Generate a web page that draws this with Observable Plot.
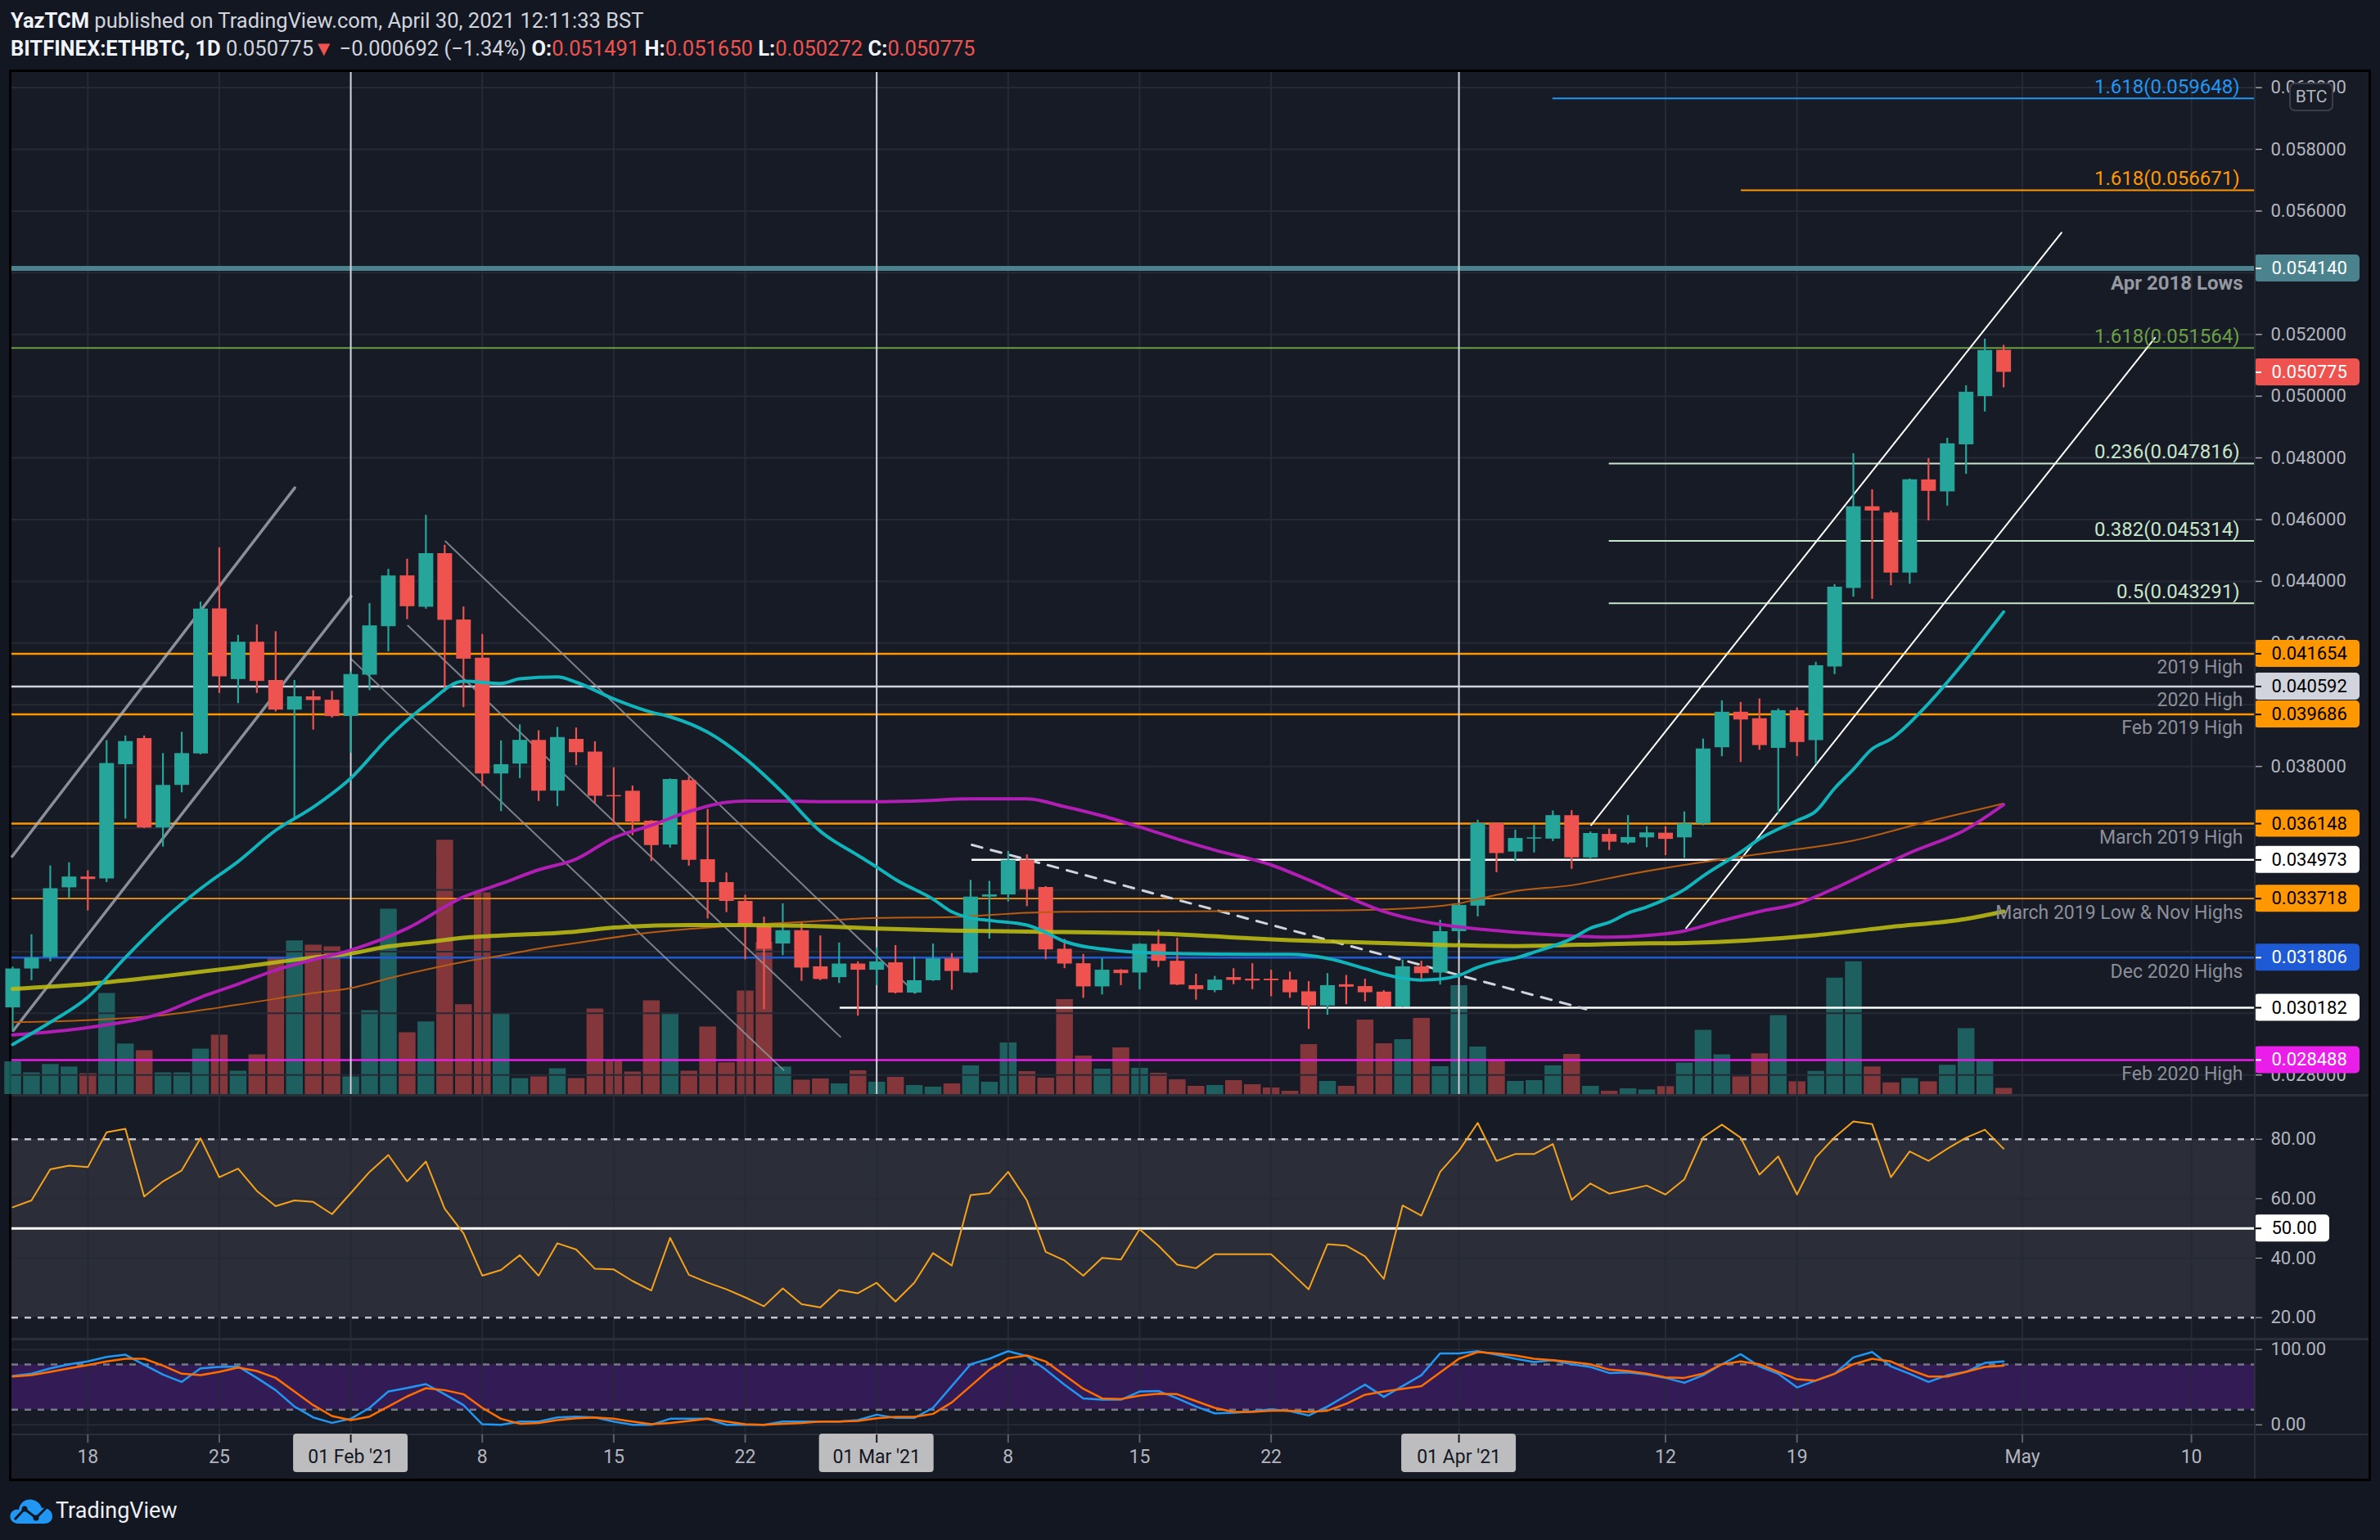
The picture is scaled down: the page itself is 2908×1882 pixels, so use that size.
<!DOCTYPE html>
<html>
<head>
<meta charset="utf-8">
<script src="https://cdn.jsdelivr.net/npm/d3@7"></script>
<script src="https://cdn.jsdelivr.net/npm/@observablehq/plot@0.6"></script>
<style>
html,body{margin:0;padding:0;}
body{width:2908px;height:1882px;background:#131722;position:relative;overflow:hidden;font-family:Roboto,"Noto Sans",sans-serif;}
.abs{position:absolute;}
#h1{left:13px;top:8px;font-size:25.5px;color:#d1d4dc;white-space:nowrap;line-height:34px;}
#h2{left:13px;top:42px;font-size:25.5px;color:#d1d4dc;white-space:nowrap;line-height:34px;}
#h1 b,#h2 b{color:#f0f3fa;font-weight:700;}
.r{color:#ef5350;}
#frame{left:11px;top:85px;width:2886px;height:1725px;box-sizing:border-box;border:3px solid #000;background:#171b26;}
.sep{left:14px;width:2880px;background:#2a2e39;}
#axisline{left:2754px;top:88px;width:2px;height:1719px;background:#2a2e39;}
#btc{left:2797px;top:101px;width:54px;height:35px;box-sizing:border-box;border:2px solid #3a3e4a;border-radius:7px;background:#171b26;color:#b2b5be;font-size:21px;line-height:31px;text-align:center;}
#foot{left:68px;top:1829px;font-size:27px;color:#eef0f4;line-height:34px;}
.pane{left:14px;}
</style>
</head>
<body>
<div id="h1" class="abs"><b>YazTCM</b> published on TradingView.com, April 30, 2021 12:11:33 BST</div>
<div id="h2" class="abs"><b>BITFINEX:ETHBTC, 1D</b> 0.050775<span class="r">▼</span> −0.000692 (−1.34%) <b>O:</b><span class="r">0.051491</span> <b>H:</b><span class="r">0.051650</span> <b>L:</b><span class="r">0.050272</span> <b>C:</b><span class="r">0.050775</span></div>
<div id="frame" class="abs"></div>
<div id="vol" class="abs pane" style="top:88px"></div>
<div id="price" class="abs pane" style="top:88px"></div>
<div class="abs sep" style="top:1337px;height:3px"></div>
<div id="rsi" class="abs pane" style="top:1339px"></div>
<div class="abs sep" style="top:1635px;height:3px"></div>
<div id="stoch" class="abs pane" style="top:1638px"></div>
<div class="abs sep" style="top:1752px;height:2px"></div>
<div id="dates" class="abs pane" style="top:1753px"></div>
<div id="axisline" class="abs"></div>
<div id="btc" class="abs">BTC</div>
<svg class="abs" style="left:11px;top:1828px" width="56" height="36" viewBox="0 0 56 36">
<path d="M12 34 C3 34 0 27 2 22 C4 17 9 16 12 17 C13 8 21 3 29 5 C35 6 39 11 40 15 C47 14 53 19 53 25 C53 31 48 34 43 34 Z" fill="#2196f3"/>
<polyline points="7,29 19,16 33,27 46,14" fill="none" stroke="#131722" stroke-width="3"/>
<circle cx="19" cy="16" r="3.5" fill="#131722"/><circle cx="33" cy="27" r="3.5" fill="#131722"/>
</svg>
<div id="foot" class="abs">TradingView</div>
<script>
// ---------------- DATA ----------------
// daily candles BITFINEX:ETHBTC, 14 Jan 2021 .. 30 Apr 2021
const firstDay = "2021-01-14", lastDayExclusive = "2021-05-01";
const open = [0.03018,0.03144,0.03181,0.03407,0.03442,0.03436,0.03806,0.03891,0.03601,0.03739,
0.03841,0.04311,0.04082,0.04203,0.04079,0.03983,0.04026,0.04015,0.03962,0.04096,
0.04253,0.04418,0.04316,0.04490,0.04275,0.04151,0.03776,0.03808,0.03885,0.03720,
0.03888,0.03847,0.03706,0.03720,0.03623,0.03546,0.03755,0.03498,0.03424,0.03363,
0.03282,0.03225,0.03268,0.03151,0.03116,0.03160,0.03140,0.03164,0.03066,0.03106,
0.03177,0.03131,0.03377,0.03384,0.03496,0.03408,0.03208,0.03161,0.03086,0.03140,
0.03131,0.03224,0.03169,0.03090,0.03074,0.03116,0.03111,0.03111,0.03108,0.03070,
0.03024,0.03093,0.03087,0.03069,0.03021,0.03151,0.03131,0.03265,0.03348,0.03615,
0.03523,0.03565,0.03565,0.03641,0.03504,0.03580,0.03552,0.03569,0.03584,0.03569,
0.03614,0.03861,0.03976,0.03955,0.03859,0.03981,0.03884,0.04123,0.04377,0.04642,
0.04622,0.04427,0.04729,0.04690,0.04843,0.04999,0.051491];
const high = [0.03150,0.03255,0.03478,0.03488,0.03462,0.03884,0.03899,0.03899,0.03842,0.03911,
0.04333,0.04509,0.04225,0.04259,0.04237,0.04079,0.04046,0.04044,0.04107,0.04328,
0.04439,0.04472,0.04614,0.04517,0.04317,0.04228,0.03883,0.03935,0.03916,0.03927,
0.03925,0.03880,0.03796,0.03737,0.03625,0.03760,0.03766,0.03661,0.03455,0.03383,
0.03312,0.03355,0.03296,0.03251,0.03228,0.03167,0.03212,0.03220,0.03183,0.03225,
0.03194,0.03431,0.03428,0.03525,0.03514,0.03411,0.03240,0.03191,0.03178,0.03142,
0.03226,0.03270,0.03244,0.03127,0.03120,0.03145,0.03161,0.03140,0.03134,0.03103,
0.03129,0.03123,0.03111,0.03074,0.03173,0.03169,0.03302,0.03352,0.03626,0.03617,
0.03594,0.03611,0.03656,0.03657,0.03588,0.03597,0.03641,0.03605,0.03605,0.03653,
0.03889,0.04013,0.04008,0.04019,0.03987,0.03990,0.04138,0.04390,0.04814,0.04697,
0.04628,0.04732,0.04798,0.04864,0.05034,0.05185,0.051650];
const low = [0.02944,0.03106,0.03167,0.03373,0.03332,0.03424,0.03630,0.03599,0.03539,0.03715,
0.03838,0.04037,0.04004,0.04037,0.03977,0.03631,0.03918,0.03957,0.03843,0.04046,
0.04172,0.04276,0.04310,0.04040,0.03991,0.03735,0.03654,0.03761,0.03687,0.03670,
0.03803,0.03680,0.03610,0.03576,0.03492,0.03536,0.03477,0.03306,0.03327,0.03174,
0.03012,0.03187,0.03104,0.03106,0.03097,0.02991,0.03090,0.03063,0.03063,0.03104,
0.03075,0.03129,0.03241,0.03361,0.03346,0.03174,0.03145,0.03049,0.03060,0.03090,
0.03076,0.03149,0.03090,0.03043,0.03067,0.03093,0.03077,0.03054,0.03049,0.02948,
0.02994,0.03028,0.03037,0.03019,0.03019,0.03102,0.03092,0.03237,0.03313,0.03456,
0.03491,0.03520,0.03557,0.03467,0.03498,0.03528,0.03547,0.03537,0.03511,0.03502,
0.03608,0.03832,0.03813,0.03853,0.03646,0.03832,0.03807,0.04098,0.04349,0.04342,
0.04386,0.04391,0.04596,0.04644,0.04747,0.04949,0.050272];
const close = [0.03144,0.03179,0.03404,0.03442,0.03434,0.03810,0.03881,0.03601,0.03739,0.03842,
0.04310,0.04091,0.04203,0.04076,0.03983,0.04026,0.04014,0.03962,0.04098,0.04256,
0.04418,0.04318,0.04490,0.04274,0.04148,0.03776,0.03806,0.03885,0.03720,0.03894,
0.03845,0.03704,0.03702,0.03620,0.03544,0.03758,0.03496,0.03424,0.03363,0.03282,
0.03208,0.03268,0.03147,0.03110,0.03160,0.03140,0.03167,0.03066,0.03106,0.03177,
0.03136,0.03377,0.03384,0.03496,0.03401,0.03206,0.03160,0.03086,0.03140,0.03129,
0.03224,0.03169,0.03092,0.03077,0.03108,0.03107,0.03105,0.03106,0.03067,0.03024,
0.03090,0.03085,0.03067,0.03021,0.03151,0.03129,0.03265,0.03350,0.03615,0.03518,
0.03567,0.03569,0.03641,0.03504,0.03583,0.03555,0.03570,0.03585,0.03564,0.03614,
0.03857,0.03976,0.03951,0.03868,0.03981,0.03878,0.04127,0.04381,0.04642,0.04628,
0.04427,0.04729,0.04692,0.04846,0.05013,0.05148,0.050775];
// relative volume (read as bar heights)
const volume = [40,26.5,36.7,33.6,25.5,123.5,61.7,53.5,26.5,26.5,
55.5,72.5,28.5,48.5,166.8,187.7,182.6,180.6,21.5,102.5,
226.5,75.5,88.7,310.7,109.7,246.5,98.5,19.5,21.5,31.5,
19.5,104.5,41.8,27.5,114.5,99.5,28.5,82.5,38.7,126.5,
185.7,33.6,17.5,19,13,29,15,21,11,9,
13,35,15,63,28,20,116,47,31,57,
32,26,18,10,11,17,12,8,4,61,
16,10,91,62,67,93,34,133,58,42,
16,17,35,49,10,4,7,5.6,9.6,38.4,
78.5,48.5,21.6,49.7,96.6,15.6,28.3,142.2,162.2,33.7,
14.3,19.6,15.6,35.7,80.6,42.4,7.5];
const rsi = [57.1,59.4,69.9,71.1,70.6,82.3,83.5,60.7,65.8,69.5,
80.3,67.2,70.1,62.6,57.5,59.4,58.9,54.8,61.9,69.0,
74.7,65.8,72.5,56.6,48.4,34.1,36.0,41.0,34.1,45.0,
42.9,36.4,36.2,32.3,29.1,46.8,34.4,31.8,29.5,26.8,
23.8,29.8,24.5,23.4,29.3,28.2,31.7,25.4,31.7,41.7,
37.5,61.2,61.9,69.0,59.4,42.1,39.2,34.1,40.1,39.5,
49.7,44.2,37.8,36.6,41.3,41.3,41.3,41.3,35.5,29.5,
44.7,44.2,40.6,33.0,57.7,54.3,69.0,76.1,85.5,72.7,
75.0,75.0,78.4,59.6,65.1,61.7,63.0,64.4,61.4,66.5,
80.6,84.9,80.5,68.1,74.2,61.4,73.9,80.6,86.0,85.1,
67.2,75.9,72.7,76.8,80.5,83.2,76.8];
const stochK = [64.9,67.8,75.0,80.4,84.1,90.2,93.1,79.7,66.7,56.9,
75.0,76.8,77.5,62.3,46.0,24.3,9.8,2.5,8.0,22.5,
44.2,48.9,54.0,40.6,26.1,0.7,0,4.3,4.3,9.8,
10.9,9.8,4.3,0,0,8.0,8.0,8.0,0,0,
0,4.3,4.3,4.3,4.3,6.2,13.4,9.1,9.1,22.5,
51.4,80.4,87.7,97.8,91.3,73.2,53.3,35.1,33.3,33.3,
44.2,44.9,35.1,24.3,15.2,15.9,17.8,20.7,18.1,12.3,
24.3,38.8,53.3,37.0,51.4,65.9,94.9,94.9,97.8,93.1,
87.7,83.3,85.9,80.4,76.8,68.8,69.6,66.7,62.3,55.8,
65.9,80.4,93.8,77.5,67.8,49.6,58.7,67.8,89.5,96.7,
77.5,67.8,56.9,65.9,70.3,82.2,84.1];
const stochD = [64.1,65.9,70.3,75.0,79.3,84.1,87.7,87.7,78.6,67.8,
65.9,70.3,76.1,71.4,62.3,44.2,26.1,11.6,6.2,10.9,
24.3,37.7,48.6,46.0,40.6,22.5,8.0,1.4,2.5,6.2,
8.7,9.8,8.0,4.3,0.7,2.5,5.1,8.0,4.3,0.7,
0,1.4,2.5,4.3,4.3,5.1,8.7,10.5,10.5,14.5,
29.7,51.4,73.2,88.4,92.0,84.1,65.9,47.8,35.1,34.1,
38.8,41.3,40.6,31.5,22.5,17.0,17.0,18.8,18.8,17.0,
18.8,27.9,39.9,44.2,47.8,51.4,69.6,87.7,96.7,94.9,
92.0,87.7,85.9,83.3,80.4,73.2,71.4,67.8,63.0,62.3,
67.8,80.4,84.1,80.4,70.3,60.5,58.7,67.8,80.4,87.7,
84.1,73.2,64.1,64.1,70.3,76.8,78.6];
// moving averages: [days after 14 Jan, value]
const maCyan = [[0,0.02899],[2,0.02971],[4,0.03052],[6,0.03181],[8,0.03302],[10,0.03404],[12,0.03492],[14,0.03593],[16,0.03668],[18,0.03762],[20,0.03893],[22,0.03999],[24,0.04076],[26,0.04069],[27,0.04084],[29,0.04090],[30,0.04073],[32,0.04019],[34,0.03976],[35,0.03961],[37,0.03911],[39,0.03826],[41,0.03715],[43,0.03590],[45,0.03512],[46,0.03474],[47,0.03434],[49,0.03370],[50,0.03329],[51,0.03309],[52,0.03301],[54,0.03286],[55,0.03262],[56,0.03233],[59,0.03202],[61,0.03195],[64,0.03192],[68,0.03191],[70,0.03178],[72,0.03145],[73,0.03127],[74,0.03114],[75,0.03108],[76,0.03111],[77,0.03123],[78,0.03149],[79,0.03167],[80,0.03179],[81,0.03198],[83,0.03242],[84,0.03276],[85,0.03295],[86,0.03325],[87,0.03345],[89,0.03401],[90,0.03445],[92,0.03522],[93,0.03565],[95,0.03625],[96,0.03655],[97,0.03729],[98,0.03791],[99,0.03857],[100,0.03889],[102,0.04004],[104,0.04146],[106,0.04301]];
const maMagenta = [[0,0.02930],[4,0.02954],[8,0.03002],[10,0.03052],[12,0.03095],[14,0.03140],[16,0.03174],[18,0.03205],[21,0.03275],[24,0.03377],[26,0.03420],[28,0.03465],[30,0.03500],[32,0.03569],[34,0.03609],[36,0.03654],[38,0.03684],[39,0.03688],[41,0.03688],[43,0.03686],[46,0.03686],[48,0.03688],[51,0.03695],[54,0.03695],[56,0.03670],[58,0.03640],[60,0.03604],[62,0.03565],[64,0.03529],[67,0.03481],[69,0.03432],[71,0.03379],[73,0.03330],[75,0.03299],[77,0.03280],[79,0.03268],[81,0.03258],[83,0.03251],[85,0.03247],[87,0.03252],[89,0.03267],[91,0.03300],[93,0.03330],[95,0.03355],[97,0.03405],[99,0.03463],[101,0.03520],[104,0.03596],[106,0.03676]];
const maYellow = [[0,0.03079],[4,0.03095],[8,0.03120],[12,0.03149],[16,0.03181],[18,0.03194],[20,0.03217],[22,0.03230],[24,0.03245],[26,0.03252],[30,0.03265],[32,0.03278],[36,0.03286],[39,0.03286],[43,0.03282],[46,0.03275],[50,0.03268],[54,0.03265],[61,0.03258],[68,0.03237],[73,0.03228],[76,0.03222],[80,0.03218],[86,0.03226],[89,0.03228],[96,0.03253],[100,0.03280],[104,0.03306],[106,0.03330]];
const maBrown = [[0,0.02971],[4,0.02978],[8,0.02994],[12,0.03028],[16,0.03066],[18,0.03082],[20,0.03113],[24,0.03167],[26,0.03187],[28,0.03210],[30,0.03228],[34,0.03262],[38,0.03282],[42,0.03296],[46,0.03309],[50,0.03312],[54,0.03326],[56,0.03329],[61,0.03330],[71,0.03334],[75,0.03343],[77,0.03356],[78,0.03370],[80,0.03396],[83,0.03415],[86,0.03450],[89,0.03481],[93,0.03516],[98,0.03560],[102,0.03622],[106,0.03680]];
// horizontal levels
const levelPrices = [0.054140,0.041654,0.040592,0.039686,0.036148,0.034973,0.033718,0.031806,0.030182,0.028488];
const levelNames = ["Apr 2018 Lows","2019 High","2020 High","Feb 2019 High","March 2019 High","","March 2019 Low & Nov Highs","Dec 2020 Highs","","Feb 2020 High"];
const levelStartDay = [null,null,null,null,null,51.07,null,null,44.05,null];
// fibonacci extension / retracement levels
const fibRatios = ["1.618","1.618","1.618","0.236","0.382","0.5"];
const fibPrices = [0.059648,0.056671,0.051564,0.047816,0.045314,0.043291];
const fibStartDay = [82.0,92.03,null,85.0,85.0,85.0];
// trend lines: [day, price] end points
const trendJanUpper = [[-0.03,0.035083],[15.02,0.047030]];
const trendJanLower = [[0.03,0.029440],[18.02,0.043511]];
const trendFebA = [[23.04,0.045298],[48.06,0.030660]];
const trendFebB = [[21.04,0.042564],[44.07,0.029238]];
const trendFebC = [[18.02,0.041482],[41.05,0.028157]];
const trendDashed = [[51.07,0.035459],[83.77,0.030137]];
const trendAprUpper = [[84.04,0.036100],[109.08,0.055300]];
const trendAprLower = [[89.09,0.032760],[114.06,0.051890]];
const lastPrice = 0.050775;
const gridPrices = [0.028,0.030,0.032,0.034,0.036,0.038,0.040,0.042,0.044,0.046,0.048,0.050,0.052,0.054,0.056,0.058,0.060];
const priceTickLabels = [0.028,0.038,0.042,0.044,0.046,0.048,0.050,0.052,0.056,0.058,0.060];
const monthLines = ["2021-02-01","2021-03-01","2021-04-01"];
const plainTickDates = ["2021-01-18","2021-01-25","2021-02-08","2021-02-15","2021-02-22","2021-03-08","2021-03-15","2021-03-22","2021-04-12","2021-04-19","2021-05-01","2021-05-10"];
const plainTickLabels = ["18","25","8","15","22","8","15","22","12","19","May","10"];
const monthTickDates = ["2021-02-01","2021-03-01","2021-04-01"];
const monthTickLabels = ["01 Feb '21","01 Mar '21","01 Apr '21"];

// ---------------- STYLE / LAYOUT ----------------
const UP="#26a69a", DN="#ef5350", VUP="rgba(38,166,154,0.5)", VDN="rgba(239,83,80,0.5)";
const GRID="#262a35";
const levelColor = ["#4a838e","#ff9800","#d1d4dc","#ff9800","#ff9800","#ffffff","#ff9800","#1f5ad6","#ffffff","#e91ee9"];
const levelWidth = [6,2.5,2.5,2.5,2.5,2.5,1.8,2.5,2.5,2.5];
const fibColor = ["#2196f3","#ff9800","#6a9f45","#c8e6c9","#c8e6c9","#c8e6c9"];
const boxPrices = [0.054140,lastPrice,0.041654,0.040592,0.039686,0.036148,0.034973,0.033718,0.031806,0.030182,0.028488];
const boxFill = ["#4a838e","#ef5350","#ff9800","#d1d4dc","#ff9800","#ff9800","#ffffff","#ff9800","#1f5ad6","#ffffff","#e91ee9"];
const boxText = ["#ffffff","#ffffff","#000000","#000000","#000000","#000000","#000000","#000000","#ffffff","#000000","#ffffff"];

const DAY = 864e5, t0 = Date.parse(firstDay);
const at = d => new Date(t0 + d * DAY);
const parse = s => new Date(s);
const dates = d3.utcDay.range(parse(firstDay), parse(lastDayExclusive));
const rows = dates.map((date, i) => ({date, o: open[i], h: high[i], l: low[i], c: close[i], v: volume[i]}));
const W = 2880, MR = 140, PW = W - MR;
const xDomain = [at(-0.044), at(119.35)];
const X = Plot.scale({x: {type: "utc", domain: xDomain, range: [0, PW]}});
const xEnd = xDomain[1], xStart = xDomain[0];
const xPx = px => X.invert(px);
const xOpt = {type: "utc", domain: xDomain, axis: null};
const base = {width: W, marginLeft: 0, marginRight: MR, marginTop: 0, marginBottom: 0,
  color: {type: "identity"},
  style: {background: "transparent", fontFamily: "Roboto, sans-serif", color: "#b2b5be", overflow: "visible"}};
const gridDates = [...plainTickDates, ...monthTickDates].map(parse);
const trendLine = (pts, o) => Plot.line(pts, {x: d => at(d[0]), y: d => d[1], ...o});

// ---------------- VOLUME (overlay, bottom of price pane) ----------------
const PH = 1249;
const vol = Plot.plot({...base, height: PH, x: xOpt,
  y: {domain: [0, d3.max(volume) * 4.02], axis: null},
  marks: [
    Plot.ruleX(rows, {x: "date", y1: 0, y2: "v", stroke: d => d.c >= d.o ? VUP : VDN, strokeWidth: 20.5})
  ]});
document.getElementById("vol").append(vol);

// ---------------- PRICE PANE ----------------
const pDomain = [0.0273713, 0.0604927];
const Y = Plot.scale({y: {domain: pDomain, range: [PH, 0]}});
const boxH = Y.invert(0) - Y.invert(16.5);
const levelMarks = levelPrices.map((p, i) => Plot.ruleY([p], {
  ...(levelStartDay[i] == null ? {} : {x1: () => at(levelStartDay[i]), x2: () => xEnd}),
  stroke: levelColor[i], strokeWidth: levelWidth[i]}));
const fibMarks = fibPrices.map((p, i) => Plot.ruleY([p], {
  ...(fibStartDay[i] == null ? {} : {x1: () => at(fibStartDay[i]), x2: () => xEnd}),
  stroke: fibColor[i], strokeWidth: 2}));

const price = Plot.plot({...base, height: PH, x: xOpt, y: {domain: pDomain, axis: null},
  marks: [
    Plot.ruleY(gridPrices, {stroke: GRID, strokeWidth: 2}),
    Plot.ruleX(gridDates, {stroke: GRID, strokeWidth: 2}),
    ...levelMarks,
    ...fibMarks,
    trendLine(trendJanUpper, {stroke: "#b2b5be", strokeOpacity: 0.75, strokeWidth: 3.5}),
    trendLine(trendJanLower, {stroke: "#b2b5be", strokeOpacity: 0.75, strokeWidth: 3.5}),
    trendLine(trendFebA, {stroke: "#9598a1", strokeOpacity: 0.8, strokeWidth: 2}),
    trendLine(trendFebB, {stroke: "#9598a1", strokeOpacity: 0.8, strokeWidth: 2}),
    trendLine(trendFebC, {stroke: "#9598a1", strokeOpacity: 0.8, strokeWidth: 2}),
    trendLine(trendDashed, {stroke: "#d1d4dc", strokeWidth: 3, strokeDasharray: "13,11"}),
    trendLine(trendAprUpper, {stroke: "#ffffff", strokeWidth: 2}),
    trendLine(trendAprLower, {stroke: "#ffffff", strokeWidth: 2}),
    Plot.ruleX(monthLines.map(parse), {stroke: "#d1d4dc", strokeWidth: 2}),
    Plot.ruleX(rows, {x: "date", y1: "l", y2: "h", stroke: d => d.c >= d.o ? UP : DN, strokeWidth: 2.2}),
    Plot.ruleX(rows, {x: "date", y1: "o", y2: "c", stroke: d => d.c >= d.o ? UP : DN, strokeWidth: 18}),
    trendLine(maBrown, {stroke: "#b85c12", strokeWidth: 2, curve: "monotone-x"}),
    trendLine(maYellow, {stroke: "#b9b915", strokeOpacity: 0.9, strokeWidth: 5, curve: "monotone-x"}),
    trendLine(maMagenta, {stroke: "#b01eb4", strokeWidth: 4, curve: "monotone-x"}),
    trendLine(maCyan, {stroke: "#10b4ba", strokeWidth: 4, curve: "monotone-x"}),
    // labels of levels
    Plot.text(levelPrices, {filter: (p, i) => i === 0, x: () => xEnd, y: p => p, text: (p, i) => levelNames[i],
      dx: -14, dy: 18, textAnchor: "end", fill: "#9598a1", fontSize: 24, fontWeight: 700}),
    Plot.text(levelPrices, {filter: (p, i) => i > 0 && levelNames[i], x: () => xEnd, y: p => p, text: (p, i) => levelNames[i],
      dx: -14, dy: 17, textAnchor: "end", fill: "#8c8f98", fontSize: 23}),
    Plot.text(fibPrices, {x: () => xEnd, y: p => p, text: (p, i) => `${fibRatios[i]}(${p.toFixed(6)})`,
      dx: -18, dy: -14, textAnchor: "end", fill: (p, i) => fibColor[i], fontSize: 24}),
    // right price axis
    Plot.ruleY(gridPrices, {x1: () => xEnd, x2: () => xPx(PW + 9), stroke: "#4a4e5a", strokeWidth: 2}),
    Plot.axisY({anchor: "right", ticks: priceTickLabels, tickFormat: d => d.toFixed(6), tickSize: 9, tickPadding: 11, fontSize: 22, label: null}),
    Plot.rect(boxPrices, {x1: () => xEnd, x2: () => xPx(PW + 129), y1: p => p - boxH, y2: p => p + boxH, fill: (p, i) => boxFill[i], rx: 5}),
    Plot.ruleY(boxPrices, {x1: () => xEnd, x2: () => xPx(PW + 9), stroke: (p, i) => boxText[i], strokeWidth: 2}),
    Plot.text(boxPrices, {x: () => xEnd, y: p => p, text: p => p.toFixed(6), dx: 21, textAnchor: "start", fill: (p, i) => boxText[i], fontSize: 22})
  ]});
document.getElementById("price").append(price);

// ---------------- RSI PANE ----------------
const rsiPlot = Plot.plot({...base, height: 297, x: xOpt, y: {domain: [12.761, 94.506], axis: null},
  marks: [
    Plot.rect([[20, 80]], {x1: () => xStart, x2: () => xEnd, y1: d => d[0], y2: d => d[1], fill: "#9598a1", fillOpacity: 0.16}),
    Plot.ruleY([60, 40], {stroke: GRID, strokeWidth: 2}),
    Plot.ruleX(gridDates, {stroke: GRID, strokeWidth: 2}),
    Plot.ruleY([80, 20], {stroke: "#c4c6cc", strokeWidth: 2.5, strokeDasharray: "8,8"}),
    Plot.ruleY([50], {stroke: "#ffffff", strokeWidth: 3}),
    Plot.line(rsi, {x: (d, i) => dates[i], y: d => d, stroke: "#f7a21b", strokeWidth: 2}),
    Plot.axisY({anchor: "right", ticks: [80, 60, 40, 20], tickFormat: d => d.toFixed(2), tickSize: 9, tickPadding: 11, fontSize: 22, label: null}),
    Plot.rect([50], {x1: () => xEnd, x2: () => xPx(PW + 92), y1: d => d - 4.54, y2: d => d + 4.54, fill: "#ffffff", rx: 5}),
    Plot.ruleY([50], {x1: () => xEnd, x2: () => xPx(PW + 9), stroke: "#000", strokeWidth: 2}),
    Plot.text([50], {x: () => xEnd, y: d => d, text: d => d.toFixed(2), dx: 21, textAnchor: "start", fill: "#000", fontSize: 22})
  ]});
document.getElementById("rsi").append(rsiPlot);

// ---------------- STOCH RSI PANE ----------------
const stochPlot = Plot.plot({...base, height: 114, x: xOpt, y: {domain: [-12.28, 111.63], axis: null},
  marks: [
    Plot.rect([[20, 80]], {x1: () => xStart, x2: () => xEnd, y1: d => d[0], y2: d => d[1], fill: "#331c56"}),
    Plot.ruleY([100, 0], {stroke: GRID, strokeWidth: 2}),
    Plot.ruleX(gridDates, {stroke: GRID, strokeOpacity: 0.8, strokeWidth: 2}),
    Plot.ruleY([80, 20], {stroke: "#787b86", strokeWidth: 2.5, strokeDasharray: "8,8"}),
    Plot.line(stochK, {x: (d, i) => dates[i], y: d => d, stroke: "#2196f3", strokeWidth: 2.5}),
    Plot.line(stochD, {x: (d, i) => dates[i], y: d => d, stroke: "#ff6d00", strokeWidth: 2.5}),
    Plot.axisY({anchor: "right", ticks: [100, 0], tickFormat: d => d.toFixed(2), tickSize: 9, tickPadding: 11, fontSize: 22, label: null})
  ]});
document.getElementById("stoch").append(stochPlot);

// ---------------- DATE AXIS ----------------
const dateAxis = Plot.plot({...base, height: 54, x: xOpt, y: {domain: [0, 1], axis: null},
  marks: [
    Plot.ruleX(plainTickDates.map(parse), {y1: 1, y2: 1 - 10 / 54, stroke: "#5d606b", strokeWidth: 2}),
    Plot.text(plainTickDates.map(parse), {x: d => d, y: 0.5, text: (d, i) => plainTickLabels[i], fill: "#b2b5be", fontSize: 23}),
    Plot.rect(monthTickDates.map(parse), {x1: d => new Date(+d - 3.05 * DAY), x2: d => new Date(+d + 3.05 * DAY), y1: 0.148, y2: 1.02, fill: "#bdbdbf", rx: 4}),
    Plot.ruleX(monthTickDates.map(parse), {y1: 1, y2: 1 - 10 / 54, stroke: "#131722", strokeWidth: 2}),
    Plot.text(monthTickDates.map(parse), {x: d => d, y: 0.5, text: (d, i) => monthTickLabels[i], fill: "#131722", fontSize: 23})
  ]});
document.getElementById("dates").append(dateAxis);
</script>
</body>
</html>
